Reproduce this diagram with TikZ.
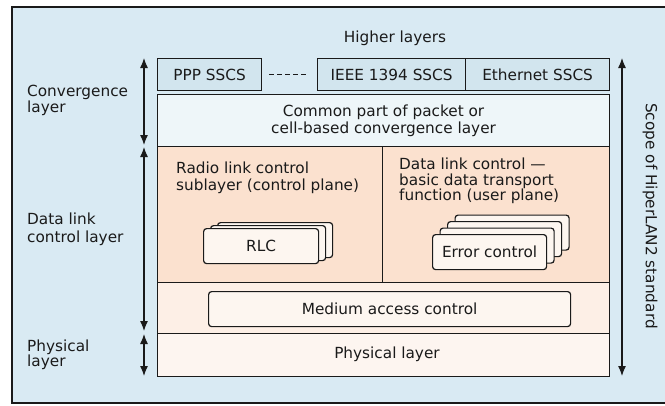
\documentclass[tikz,border=0pt]{standalone}
\usepackage{fontspec}
\setmainfont{DejaVu Sans}
\usetikzlibrary{arrows.meta,calc}

\definecolor{bgblue}{HTML}{D9EAF3}
\definecolor{ssblue}{HTML}{D2E5EE}
\definecolor{compale}{HTML}{EEF6F9}
\definecolor{dlcpeach}{HTML}{FBE1CF}
\definecolor{macpeach}{HTML}{FDEFE6}
\definecolor{phypeach}{HTML}{FDF5F0}
\definecolor{boxwhite}{HTML}{FDF6F0}
\definecolor{ink}{HTML}{1A1A1A}

\tikzset{
  lbl/.style={font=\fontsize{15.3}{16.5}\selectfont, text=ink, inner sep=0pt},
  layer/.style={draw=ink, line width=1.2pt, anchor=north west, inner sep=0pt,
                lbl, align=center},
  sscs/.style={layer, fill=ssblue},
  unit/.style={draw=ink, line width=1.2pt, fill=boxwhite, rounded corners=3pt,
               inner sep=0pt, lbl},
  dimarrow/.style={draw=ink, line width=1.2pt,
                   {Latex[length=10pt,width=8pt]}-{Latex[length=10pt,width=8pt]}},
}

\begin{document}
\begin{tikzpicture}[x=1pt,y=-1pt]
\useasboundingbox (0,0) rectangle (665,405);

% outer panel
\draw[ink, line width=1.1pt, fill=bgblue] (12,7) rectangle (672,403);

\node[lbl] (higher) at (395,38) {Higher layers};

% service specific convergence sublayers
\node[sscs, minimum width=104, minimum height=32] (ppp) at (157,58) {PPP SSCS};
\node[sscs, minimum width=148, minimum height=32] (ieee) at (317,58) {IEEE 1394 SSCS};
\node[sscs, minimum width=144, minimum height=32] (eth) at (465,58) {Ethernet SSCS};
\draw[ink, line width=1.1pt, dash pattern=on 5pt off 3pt]
  ($(ppp.east)+(7,0)$) -- ($(ieee.west)+(-8,0)$);

% layer stack
\node[layer, fill=compale, minimum width=452, minimum height=52] (common) at (157,94)
  {Common part of packet or\\cell-based convergence layer};
\node[layer, fill=dlcpeach, minimum width=225, minimum height=136] (rlcarea) at (157,146) {};
\node[layer, fill=dlcpeach, minimum width=227, minimum height=136] (dlcarea) at (382,146) {};
\node[layer, fill=macpeach, minimum width=452, minimum height=51] (macrow) at (157,282) {};
\node[layer, fill=phypeach, minimum width=452, minimum height=43] (phyrow) at (157,333) {};
\node[lbl] (phytext) at (387,354) {Physical layer};

\node[lbl, anchor=north west, align=left] (rlctext) at (176,162)
  {Radio link control\\sublayer (control plane)};
\node[lbl, anchor=north west, align=left, font=\fontsize{15.3}{15.5}\selectfont] (dlctext) at (399,158)
  {Data link control \textemdash\\basic data transport\\function (user plane)};

% RLC entities
\foreach \k in {2,1} {
  \node[unit, minimum width=115, minimum height=35, anchor=north west]
    (rlc\k) at (203+7*\k,228-3*\k) {};
}
\node[unit, minimum width=115, minimum height=35, anchor=north west] (rlc) at (203,228) {RLC};

% error control entities
\foreach \k in {3,2,1} {
  \node[unit, minimum width=114, minimum height=35, anchor=north west]
    (ec\k) at (432+7.5*\k,234-6.5*\k) {};
}
\node[unit, minimum width=114, minimum height=35, anchor=north west] (ec) at (432,234) {Error control};

% medium access control
\node[unit, minimum width=362, minimum height=35, anchor=north west] (mac) at (208,291)
  {Medium access control};

% layer labels on the left
\node[lbl, anchor=north west, align=left, font=\fontsize{15.3}{16}\selectfont] (convlbl) at (27,84.5) {Convergence\\layer};
\node[lbl, anchor=north west, align=left, font=\fontsize{15.3}{18}\selectfont] (dlclbl) at (27,213) {Data link\\control layer};
\node[lbl, anchor=north west, align=left, font=\fontsize{15.3}{15}\selectfont] (phylbl) at (27,340) {Physical\\layer};

% extent arrows
\coordinate (c1) at (144,58);
\coordinate (c2) at (144,145);
\coordinate (d1) at (144,147);
\coordinate (d2) at (144,331);
\coordinate (p1) at (144,334);
\coordinate (p2) at (144,376);
\draw[dimarrow] (c1) -- (c2);
\draw[dimarrow] (d1) -- (d2);
\draw[dimarrow] (p1) -- (p2);

\coordinate (s1) at (622,58);
\coordinate (s2) at (622,376);
\draw[dimarrow] (s1) -- (s2);
\node[lbl, rotate=-90] (scope) at (650,216) {Scope of HiperLAN2 standard};
\end{tikzpicture}
\end{document}
